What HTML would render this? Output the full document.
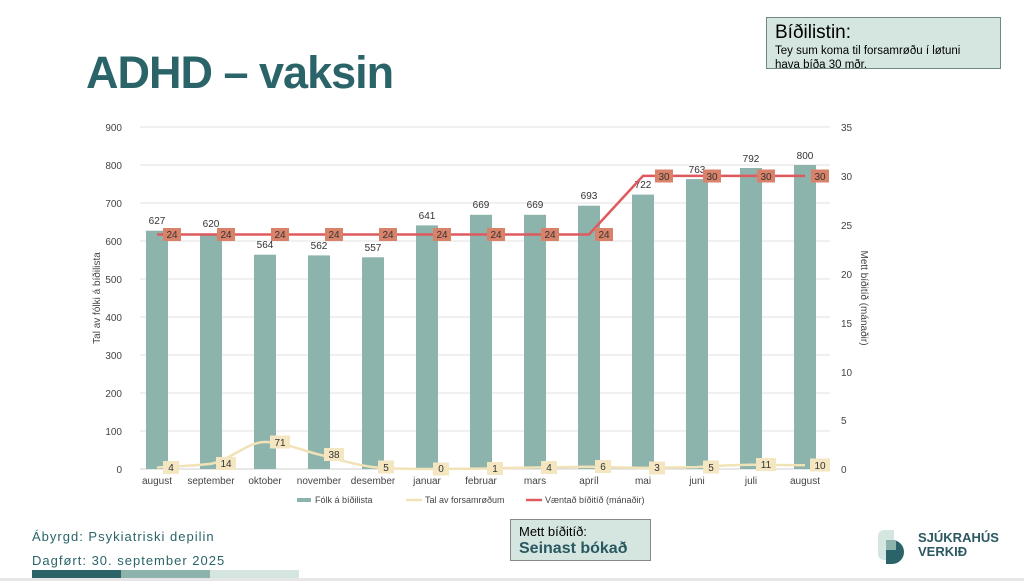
<!DOCTYPE html>
<html><head><meta charset="utf-8"><style>
body{margin:0;width:1024px;height:581px;overflow:hidden;background:#fff;font-family:"Liberation Sans",sans-serif;position:relative}
.t{position:absolute;left:86px;top:47px;font-size:45px;font-weight:bold;color:#2a6468;letter-spacing:-1px}
.box{position:absolute;left:766px;top:17px;width:225px;height:50px;background:#d5e6e0;border:1px solid #6f8a86;padding:0 0 0 8px}
.box .h{font-size:19px;margin-top:4px}
.box .s{font-size:11.5px;line-height:14px;white-space:nowrap}
.f{position:absolute;left:32px;font-family:"Liberation Sans",sans-serif;font-size:13px;color:#2a6468;letter-spacing:1px}
.mb{position:absolute;left:510px;top:519px;width:131px;height:40px;background:#d5e6e0;border:1px solid #888;padding-left:8px}
</style></head><body>
<div class="t">ADHD – vaksin</div>
<div class="box"><div class="h">Bíðilistin:</div><div class="s">Tey sum koma til forsamrøðu í løtuni<br>hava bíða 30 mðr.</div></div>
<div class="f" style="top:529px">Ábyrgd: Psykiatriski depilin</div>
<div class="f" style="top:553px">Dagført: 30. september 2025</div>
<div style="position:absolute;left:32px;top:570px;width:89px;height:11px;background:#2a6468"></div>
<div style="position:absolute;left:121px;top:570px;width:89px;height:11px;background:#8db3ad"></div>
<div style="position:absolute;left:210px;top:570px;width:89px;height:11px;background:#d5e6e0"></div>
<div style="position:absolute;left:0;top:578px;width:1024px;height:3px;background:#e6e6e6"></div>
<div class="mb"><div style="font-size:13px;margin-top:4px">Mett bíðitíð:</div><div style="font-size:16px;font-weight:bold;color:#2a5860;margin-top:1px">Seinast bókað</div></div>
<svg style="position:absolute;left:876px;top:528px" width="40" height="36"><path d="M8 2h10v30H8a6 6 0 0 1-6-6V8a6 6 0 0 1 6-6z" fill="#d5e6e0"/><path d="M10 12h6a12 12 0 0 1 0 24h-6z" fill="#2a6468"/><rect x="10" y="12" width="10" height="10" fill="#8db3ad"/></svg>
<div style="position:absolute;left:918px;top:531px;font-size:13px;font-weight:bold;color:#2a5860;line-height:14px">SJÚKRAHÚS<br>VERKIÐ</div>
<svg style="position:absolute;left:0;top:0" width="1024" height="581" font-family="Liberation Sans,sans-serif">
<g stroke="#e2e2e2" stroke-width="1">
<line x1="140" x2="830" y1="127" y2="127"/><line x1="140" x2="830" y1="165" y2="165"/><line x1="140" x2="830" y1="203" y2="203"/><line x1="140" x2="830" y1="241" y2="241"/><line x1="140" x2="830" y1="279" y2="279"/><line x1="140" x2="830" y1="317" y2="317"/><line x1="140" x2="830" y1="355" y2="355"/><line x1="140" x2="830" y1="393" y2="393"/><line x1="140" x2="830" y1="431" y2="431"/><line x1="140" x2="830" y1="469" y2="469" stroke="#cfcfcf"/></g>
<g font-size="10" fill="#444" text-anchor="end">
<text x="122" y="131">900</text><text x="122" y="169">800</text><text x="122" y="207">700</text><text x="122" y="245">600</text><text x="122" y="283">500</text><text x="122" y="321">400</text><text x="122" y="359">300</text><text x="122" y="397">200</text><text x="122" y="435">100</text><text x="122" y="473">0</text></g>
<g font-size="10" fill="#444">
<text x="841" y="131">35</text><text x="841" y="180">30</text><text x="841" y="229">25</text><text x="841" y="278">20</text><text x="841" y="327">15</text><text x="841" y="376">10</text><text x="841" y="424">5</text><text x="841" y="473">0</text></g>
<text font-size="10" fill="#444" transform="translate(100,298) rotate(-90)" text-anchor="middle">Tal av fólki á bíðilista</text>
<text font-size="10" fill="#444" transform="translate(861,298) rotate(90)" text-anchor="middle">Mett bíðitíð (mánaðir)</text>
<g fill="#8db3ad">
<rect x="146" y="230.7" width="22" height="238.3"/><rect x="200" y="233.4" width="22" height="235.6"/><rect x="254" y="254.7" width="22" height="214.3"/><rect x="308" y="255.4" width="22" height="213.6"/><rect x="362" y="257.3" width="22" height="211.7"/><rect x="416" y="225.4" width="22" height="243.6"/><rect x="470" y="214.8" width="22" height="254.2"/><rect x="524" y="214.8" width="22" height="254.2"/><rect x="578" y="205.7" width="22" height="263.3"/><rect x="632" y="194.6" width="22" height="274.4"/><rect x="686" y="179.1" width="22" height="289.9"/><rect x="740" y="168" width="22" height="301"/><rect x="794" y="165" width="22" height="304"/></g>
<g font-size="10" fill="#333" text-anchor="middle">
<text x="157" y="224">627</text><text x="211" y="227">620</text><text x="265" y="248">564</text><text x="319" y="249">562</text><text x="373" y="251">557</text><text x="427" y="219">641</text><text x="481" y="208">669</text><text x="535" y="208">669</text><text x="589" y="199">693</text><text x="643" y="188">722</text><text x="697" y="173">763</text><text x="751" y="162">792</text><text x="805" y="159">800</text></g>
<g font-size="10" fill="#444" text-anchor="middle">
<text x="157" y="484">august</text><text x="211" y="484">september</text><text x="265" y="484">oktober</text><text x="319" y="484">november</text><text x="373" y="484">desember</text><text x="427" y="484">januar</text><text x="481" y="484">februar</text><text x="535" y="484">mars</text><text x="589" y="484">apríl</text><text x="643" y="484">mai</text><text x="697" y="484">juni</text><text x="751" y="484">juli</text><text x="805" y="484">august</text></g>
<path d="M157 467.5 C175 466 193 466 211 463.7 C229 461 247 442 265 442 C283 442 301 450 319 454.6 C337 459 355 465 373 467.1 C391 469 409 469 427 469 L481 468.6 L535 467.5 L589 466.7 L643 467.9 L697 467.1 C715 466 733 465 751 464.8 L805 465.2" fill="none" stroke="#f1e2b8" stroke-width="2.5"/>
<polyline points="157,234.5 589,234.5 643,175.9 805,175.9" fill="none" stroke="#de5a5e" stroke-width="2.5"/>
<g fill="#f5e6c2"><rect x="163" y="461" width="16" height="13"/><rect x="216" y="457" width="20" height="13"/><rect x="270" y="435.5" width="20" height="13"/><rect x="324" y="448" width="20" height="13"/><rect x="378" y="460.5" width="16" height="13"/><rect x="433" y="462.5" width="16" height="13"/><rect x="487" y="462" width="16" height="13"/><rect x="541" y="461" width="16" height="13"/><rect x="595" y="460" width="16" height="13"/><rect x="649" y="461.5" width="16" height="13"/><rect x="703" y="460.5" width="16" height="13"/><rect x="756" y="458" width="20" height="13"/><rect x="810" y="458.5" width="20" height="13"/></g>
<g font-size="10" fill="#333" text-anchor="middle">
<text x="171" y="471">4</text><text x="226" y="467">14</text><text x="280" y="446">71</text><text x="334" y="458">38</text><text x="386" y="471">5</text><text x="441" y="472">0</text><text x="495" y="472">1</text><text x="549" y="471">4</text><text x="603" y="470">6</text><text x="657" y="471">3</text><text x="711" y="471">5</text><text x="766" y="468">11</text><text x="820" y="469">10</text></g>
<g fill="#d9826a">
<rect x="163" y="228" width="18" height="13"/><rect x="217" y="228" width="18" height="13"/><rect x="271" y="228" width="18" height="13"/><rect x="325" y="228" width="18" height="13"/><rect x="379" y="228" width="18" height="13"/><rect x="433" y="228" width="18" height="13"/><rect x="487" y="228" width="18" height="13"/><rect x="541" y="228" width="18" height="13"/><rect x="595" y="228" width="18" height="13"/><rect x="655" y="169.5" width="18" height="13"/><rect x="703" y="169.5" width="18" height="13"/><rect x="757" y="169.5" width="18" height="13"/><rect x="811" y="169.5" width="18" height="13"/></g>
<g font-size="10" fill="#333" text-anchor="middle">
<text x="172" y="238">24</text><text x="226" y="238">24</text><text x="280" y="238">24</text><text x="334" y="238">24</text><text x="388" y="238">24</text><text x="442" y="238">24</text><text x="496" y="238">24</text><text x="550" y="238">24</text><text x="604" y="238">24</text><text x="664" y="180">30</text><text x="712" y="180">30</text><text x="766" y="180">30</text><text x="820" y="180">30</text></g>
<g font-size="9" fill="#444">
<rect x="297" y="498" width="14" height="4" fill="#8db3ad"/><text x="315" y="503">Fólk á bíðilista</text>
<line x1="406" x2="422" y1="500" y2="500" stroke="#f1e2b8" stroke-width="2.5"/><text x="425" y="503">Tal av forsamrøðum</text>
<line x1="526" x2="542" y1="500" y2="500" stroke="#de5a5e" stroke-width="2.5"/><text x="545" y="503">Væntað bíðitíð (mánaðir)</text></g>
</svg>
</body></html>
